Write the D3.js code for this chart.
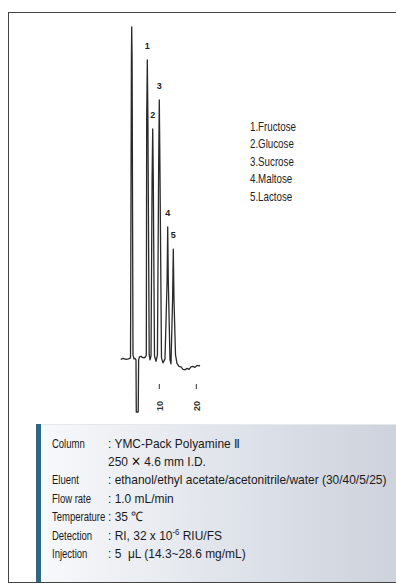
<!DOCTYPE html>
<html><head><meta charset="utf-8">
<script src="https://cdn.jsdelivr.net/npm/d3@7"></script>
<style>html,body{margin:0;padding:0;background:#fff;}svg{display:block;}</style>
</head><body>
<svg id="c" width="396" height="585"></svg>
<script>
// ---- data ----
const traceTime = [-0.43,0.19,1.00,1.68,2.22,2.46,2.54,2.65,2.89,3.16,3.43,3.70,3.78,4.30,4.41,4.65,5.05,5.46,5.86,6.27,6.49,6.59,6.76,6.92,7.27,7.49,7.76,8.05,8.22,8.38,8.70,9.11,9.49,9.84,10.00,10.16,10.59,11.00,11.54,12.11,12.27,12.43,12.89,13.16,13.59,13.78,13.97,14.38,14.78,15.32,15.86,16.41,16.95,17.49,18.03,18.57,19.11,19.65,20.19,20.73,21.00];
const traceSignal = [-0.15,0.15,-0.15,0,0.3,90.1,100,90.1,1.2,0,0.15,-0.3,-16,-16,-0.3,0.6,0.75,0.45,0.3,0.6,1.2,72,90.1,72,1.2,-0.3,0.9,53.9,69.3,53.9,0.9,-0.75,1.2,59.9,78,59.9,0.3,-1.2,0,23.8,39.8,23.8,-0.3,-1.5,17.8,33.1,17.8,1.2,-1.35,-2.25,-2.4,-3.15,-3.3,-2.85,-3.15,-2.4,-2.25,-2.55,-1.95,-2.1,-1.95];
const peakLabels = ["1","2","3","4","5"];
const peakTimes = [6.76,8.22,10.00,12.27,13.78];
const peakHeights = [90.1,69.3,78,39.8,33.1];
const compounds = ["1.Fructose","2.Glucose","3.Sucrose","4.Maltose","5.Lactose"];
const timeTicks = [10,20];
const condLabels = ["Column","","Eluent","Flow rate","Temperature","Detection","Injection"];
const condValues = [": YMC-Pack Polyamine \u2161"," 250 \u2715 4.6 mm I.D.",": ethanol/ethyl acetate/acetonitrile/water (30/40/5/25)",": 1.0 mL/min",": 35 \u2103",null,": 5 \u00a0\u03bcL (14.3~28.6 mg/mL)"];

const svg = d3.select("#c");
const x = d3.scaleLinear().domain([0,20]).range([122.3,196.3]);
const y = d3.scaleLinear().domain([-16,100]).range([412,27]);
const FONT = "Liberation Sans, Arial, sans-serif";

// frame
svg.append("rect").attr("x",8.5).attr("y",12.5).attr("width",400).attr("height",570)
  .attr("fill","none").attr("stroke","#444").attr("stroke-width",1);

// chromatogram trace
const pts = traceTime.map((t,i)=>[t,traceSignal[i]]);
svg.append("path").datum(pts)
  .attr("d", d3.line().x(d=>x(d[0])).y(d=>y(d[1])))
  .attr("fill","none").attr("stroke","#2a2a2a").attr("stroke-width",1.3).attr("stroke-linejoin","round");

// peak labels
svg.selectAll("text.pk").data(peakLabels).enter().append("text")
  .attr("class","pk").attr("x",(d,i)=>x(peakTimes[i])).attr("y",(d,i)=>y(peakHeights[i])-11)
  .attr("text-anchor","middle").attr("font-family",FONT)
  .attr("font-size",9).attr("font-weight","bold").attr("fill","#222").text(d=>d);

// time axis ticks
const ax = svg.append("g");
ax.selectAll("line").data(timeTicks).enter().append("line")
  .attr("x1",d=>x(d)).attr("x2",d=>x(d)).attr("y1",384).attr("y2",389)
  .attr("stroke","#333").attr("stroke-width",1);
ax.selectAll("text").data(timeTicks).enter().append("text")
  .attr("transform",d=>`translate(${x(d)+3.5},406) rotate(-90)`)
  .attr("text-anchor","middle").attr("font-family",FONT)
  .attr("font-size",9).attr("font-weight","bold").attr("fill","#333").text(d=>d);

// legend
svg.append("g").attr("transform","translate(250,0)")
  .selectAll("text").data(compounds).enter().append("text")
  .attr("transform",(d,i)=>`translate(0,${130.5+i*17.5}) scale(0.78,1)`)
  .attr("font-family",FONT).attr("font-size",12.5)
  .attr("fill","#222").text(d=>d);

// conditions box
const defs = svg.append("defs");
const g = defs.append("linearGradient").attr("id","bg").attr("x1",0).attr("x2",1).attr("y1",0).attr("y2",0);
g.append("stop").attr("offset","0").attr("stop-color","#f8f9fb");
g.append("stop").attr("offset","0.55").attr("stop-color","#dfe3ea");
g.append("stop").attr("offset","1").attr("stop-color","#cdd2dc");
svg.append("rect").attr("x",36).attr("y",424).attr("width",360).attr("height",158).attr("fill","url(#bg)");
svg.append("line").attr("x1",36).attr("x2",396).attr("y1",424.5).attr("y2",424.5).attr("stroke","#e6e8ec");
svg.append("rect").attr("x",36).attr("y",424).attr("width",5).attr("height",158).attr("fill","#2e6784");

const rows = svg.append("g");
condLabels.forEach((lab,i)=>{
  const yy = 447.5+i*18.4;
  rows.append("text").attr("transform",`translate(52,${yy}) scale(0.73,1)`)
    .attr("font-family",FONT).attr("font-size",13).attr("fill","#1a1a1a").text(lab);
  const t = rows.append("text").attr("transform",`translate(108,${yy}) scale(0.92,1)`)
    .attr("font-family",FONT).attr("font-size",13).attr("fill","#1a1a1a");
  if (condValues[i]!==null) t.text(condValues[i]);
  else {
    t.append("tspan").text(": RI, 32 x 10");
    t.append("tspan").attr("dy",-5).attr("font-size",8.5).text("-6");
    t.append("tspan").attr("dy",5).text(" RIU/FS");
  }
});
</script>
</body></html>
